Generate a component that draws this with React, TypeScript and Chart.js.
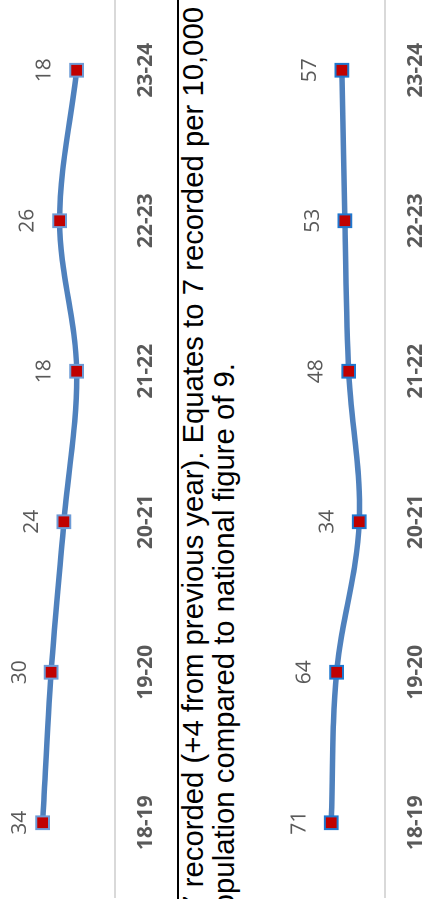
import React, { useEffect, useRef } from "react";
import { Chart, registerables } from "chart.js";

Chart.register(...registerables);

const categories = ["18-19", "19-20", "20-21", "21-22", "22-23", "23-24"];
const seriesA = [34, 30, 24, 18, 26, 18];
const seriesB = [71, 64, 34, 48, 53, 57];
const textLine1 = "7 recorded (+4 from previous year). Equates to 7 recorded per 10,000";
const textLine2 = "population compared to national figure of 9.";

type Cfg = {
  values: number[];
  yMax: number;
  padTop: number;
  padBottom: number;
  markerBorder: string;
  labelMinY: number;
};

function labelsPlugin(cfg: Cfg) {
  return {
    id: "customLabels",
    afterDraw(chart: any) {
      const ctx = chart.ctx as CanvasRenderingContext2D;
      const meta = chart.getDatasetMeta(0);
      const xScale = chart.scales.x;
      const area = chart.chartArea;
      ctx.save();
      ctx.fillStyle = "#595959";
      ctx.textAlign = "center";
      ctx.textBaseline = "middle";
      ctx.font = "21px 'Open Sans', sans-serif";
      meta.data.forEach((pt: any, i: number) => {
        const y = Math.max(pt.y - 32, cfg.labelMinY);
        ctx.fillText(String(cfg.values[i]), pt.x, y);
      });
      ctx.font = "bold 21px 'Open Sans', sans-serif";
      categories.forEach((c, i) => {
        ctx.fillText(c, xScale.getPixelForValue(i), area.bottom + 31);
      });
      ctx.restore();
    },
  };
}

function LineChart({ cfg, style }: { cfg: Cfg; style: React.CSSProperties }) {
  const ref = useRef<HTMLCanvasElement>(null);
  useEffect(() => {
    if (!ref.current) return;
    const chart = new Chart(ref.current, {
      type: "line",
      data: {
        labels: categories,
        datasets: [
          {
            data: cfg.values,
            borderColor: "#4f81bd",
            borderWidth: 5.5,
            tension: 0.35,
            clip: false,
            pointStyle: "rect",
            pointRadius: 9,
            pointBackgroundColor: "#c00000",
            pointBorderColor: cfg.markerBorder,
            pointBorderWidth: 2,
            fill: false,
          },
        ],
      },
      options: {
        animation: false,
        responsive: false,
        maintainAspectRatio: false,
        devicePixelRatio: 2,
        layout: { autoPadding: false, padding: { top: cfg.padTop, bottom: cfg.padBottom, left: 0, right: 0 } },
        plugins: { legend: { display: false }, tooltip: { enabled: false } },
        scales: {
          x: {
            type: "category",
            offset: true,
            grid: { display: false, drawTicks: false },
            ticks: { display: false },
            border: { display: true, color: "#d9d9d9", width: 2 },
          },
          y: { display: false, min: 0, max: cfg.yMax },
        },
      },
      plugins: [labelsPlugin(cfg)],
    });
    return () => chart.destroy();
  }, []);
  return <canvas ref={ref} width={style.width as number} height={style.height as number} style={style} />;
}

export default function App() {
  const cfgA: Cfg = { values: seriesA, yMax: 54, padTop: 0, padBottom: 55, markerBorder: "#6d9bd6", labelMinY: 20 };
  const cfgB: Cfg = { values: seriesB, yMax: 152, padTop: 30, padBottom: 44, markerBorder: "#1f78d0", labelMinY: 0 };
  const textStyle: React.CSSProperties = {
    position: "absolute",
    fontFamily: "'Liberation Sans', Arial, sans-serif",
    fontSize: "29.3px",
    lineHeight: "31.5px",
    color: "#000",
    whiteSpace: "nowrap",
  };
  return (
    <div style={{ position: "fixed", left: 0, top: 0, width: 429, height: 899, overflow: "hidden", background: "#fff" }}>
      <div
        style={{
          position: "absolute",
          left: 0,
          top: 0,
          width: 899,
          height: 429,
          transformOrigin: "0 0",
          transform: "translateY(899px) rotate(-90deg)",
        }}
      >
        <LineChart cfg={cfgA} style={{ position: "absolute", left: 0.8, top: 0, width: 903, height: 170 }} />
        <div style={{ position: "absolute", left: -10, top: 177, width: 920, height: 2, background: "#000" }} />
        <div style={{ ...textStyle, right: 7, top: 176.7 }}>{textLine1}</div>
        <div style={{ ...textStyle, right: 363, top: 208.2 }}>{textLine2}</div>
        <LineChart cfg={cfgB} style={{ position: "absolute", left: 0.8, top: 240, width: 903, height: 189 }} />
      </div>
    </div>
  );
}
